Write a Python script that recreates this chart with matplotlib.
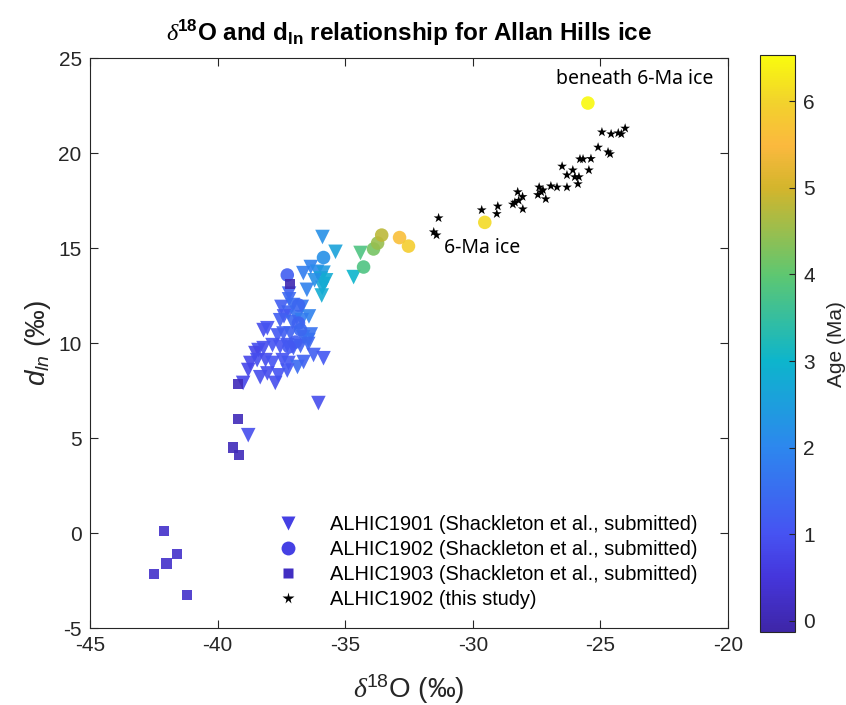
import matplotlib
matplotlib.use("Agg")
import matplotlib.pyplot as plt
from matplotlib.colors import LinearSegmentedColormap, Normalize
from matplotlib.lines import Line2D
import numpy as np

# ALHIC1901 (triangles): d18O, d_ln, age (Ma)
tri_d18o = [-35.89, -35.38, -34.40, -34.67, -36.64, -36.35, -36.10, -35.85, -35.95, -35.75,
            -35.90, -35.85, -35.92, -37.20, -37.20, -37.50, -36.70, -37.22, -37.40, -36.90,
            -36.42, -37.55, -37.07, -36.70, -38.20, -38.05, -37.65, -37.42, -37.15, -36.65,
            -36.44, -36.35, -38.40, -38.52, -38.20, -37.85, -37.55, -37.27, -37.03, -36.75,
            -36.45, -36.24, -35.85, -38.72, -38.45, -38.12, -37.85, -37.45, -37.22, -36.87,
            -36.63, -38.80, -38.33, -38.05, -37.74, -37.62, -37.27, -39.00, -36.05, -38.80,
            -36.50, -36.20, -37.05]
tri_dln = [15.58, 14.80, 14.74, 13.47, 13.68, 14.00, 13.75, 13.70, 13.40, 13.30,
           12.90, 13.10, 12.50, 12.60, 12.30, 11.90, 11.90, 11.60, 11.40, 11.35,
           11.40, 11.20, 11.10, 11.20, 10.68, 10.78, 10.40, 10.50, 10.50, 10.30,
           10.16, 10.45, 9.63, 9.47, 9.73, 9.89, 9.80, 9.89, 9.73, 9.84,
           9.95, 9.37, 9.20, 8.95, 9.10, 9.10, 8.95, 9.10, 8.95, 8.74,
           9.00, 8.58, 8.20, 8.40, 7.90, 8.30, 8.55, 7.90, 6.84, 5.15,
           12.80, 13.30, 12.00]
tri_age = [2.2, 2.6, 3.8, 3.0, 1.8, 1.9, 2.1, 2.4, 2.6, 2.8,
           2.7, 2.8, 2.8, 1.3, 1.4, 1.2, 1.7, 1.3, 1.1, 1.6,
           1.9, 1.2, 1.4, 1.8, 0.9, 1.0, 1.1, 1.2, 1.3, 1.5,
           1.6, 1.6, 0.9, 0.8, 0.9, 1.0, 1.0, 1.1, 1.2, 1.3,
           1.4, 1.2, 1.1, 0.8, 0.9, 0.9, 1.0, 1.0, 1.1, 1.5,
           1.3, 0.8, 0.9, 0.9, 0.9, 1.0, 1.1, 0.8, 0.9, 0.9,
           1.9, 2.2, 1.5]

# ALHIC1902 Shackleton (circles)
cir_d18o = [-37.27, -35.85, -36.83, -36.83, -36.75, -36.95, -37.20, -34.28, -33.89, -33.73,
            -33.57, -32.87, -32.52, -29.53, -25.49]
cir_dln = [13.58, 14.50, 12.00, 11.05, 10.70, 10.05, 9.80, 14.00, 14.95, 15.26,
           15.68, 15.55, 15.10, 16.35, 22.63]
cir_age = [1.2, 2.2, 1.4, 1.3, 1.4, 1.2, 1.1, 3.8, 4.2, 4.5,
           4.8, 5.6, 5.9, 6.1, 6.5]

# ALHIC1903 (squares)
sq_d18o = [-42.1, -41.6, -42.0, -42.5, -41.2, -39.2, -39.4, -39.15, -39.2, -37.15]
sq_dln = [0.1, -1.1, -1.6, -2.15, -3.25, 6.0, 4.5, 4.1, 7.85, 13.1]
sq_age = [0.3, 0.3, 0.3, 0.3, 0.3, 0.1, 0.1, 0.1, 0.1, 0.0]

# ALHIC1902 this study (stars)
st_d18o = [-31.34, -31.53, -31.42, -29.65, -29.02, -29.06, -28.43, -28.24, -28.20, -28.04,
           -28.05, -28.35, -27.45, -27.40, -27.25, -27.14, -27.32, -26.94, -26.70, -26.31,
           -26.50, -26.31, -26.08, -26.00, -25.88, -25.84, -25.80, -25.68, -25.37, -25.45,
           -25.09, -24.70, -24.62, -24.94, -24.58, -24.30, -24.18, -24.03]
st_dln = [16.58, 15.84, 15.68, 17.00, 17.20, 16.80, 17.30, 17.95, 17.50, 17.05,
          17.70, 17.40, 17.80, 18.20, 18.05, 17.58, 17.95, 18.26, 18.20, 18.20,
          19.30, 18.84, 19.10, 18.74, 18.37, 18.74, 19.68, 19.68, 19.70, 19.10,
          20.30, 20.05, 19.95, 21.10, 21.00, 21.05, 21.00, 21.30]

# parula-like colormap (value in Ma, color)
cmap_vals = [-0.13, 0.5, 1.0, 2.0, 3.0, 4.0, 5.0, 5.5, 6.0, 6.53]
cmap_cols = ["#3e26a8", "#4536dc", "#4653f2", "#2d87ee", "#0db5cc",
             "#5ec771", "#d3b52c", "#fbb93e", "#f2d22c", "#f9fb0e"]
vmin, vmax = -0.13, 6.53

plt.rcParams["font.family"] = ["Liberation Sans", "DejaVu Sans"]
plt.rcParams["axes.unicode_minus"] = False
plt.rcParams["mathtext.fontset"] = "custom"
plt.rcParams["mathtext.rm"] = "Liberation Sans"
plt.rcParams["mathtext.it"] = "Liberation Sans:italic"
plt.rcParams["mathtext.bf"] = "Liberation Sans:bold"
plt.rcParams["mathtext.sf"] = "Liberation Serif:italic"

pos = [(v - vmin) / (vmax - vmin) for v in cmap_vals]
parula = LinearSegmentedColormap.from_list("parula", list(zip(pos, cmap_cols)))
norm = Normalize(vmin=vmin, vmax=vmax)

fig = plt.figure(figsize=(8.46, 7.05), dpi=100)
ax = fig.add_axes([0.1064, 0.1092, 0.7541, 0.8085])
axc = "#262626"

ax.scatter(tri_d18o, tri_dln, c=tri_age, cmap=parula, norm=norm, marker="v", s=110,
           alpha=0.9, edgecolors="none", zorder=2)
ax.scatter(cir_d18o, cir_dln, c=cir_age, cmap=parula, norm=norm, marker="o", s=95,
           alpha=0.9, edgecolors="none", zorder=3)
ax.scatter(sq_d18o, sq_dln, c=sq_age, cmap=parula, norm=norm, marker="s", s=55,
           alpha=0.9, edgecolors="none", zorder=4)
ax.scatter(st_d18o, st_dln, c="black", marker="*", s=55, edgecolors="none", zorder=5)

ax.text(-31.14, 15.0, "6-Ma ice", fontsize=14, family="Noto Sans", va="center", ha="left")
ax.text(-26.75, 23.9, "beneath 6-Ma ice", fontsize=14, family="Noto Sans", va="center", ha="left")

ax.set_xlim(-45, -20)
ax.set_ylim(-5, 25)
ax.set_xticks([-45, -40, -35, -30, -25, -20])
ax.set_yticks([-5, 0, 5, 10, 15, 20, 25])
ax.tick_params(direction="in", top=True, right=True, length=6, width=0.8,
               labelsize=15, colors=axc, pad=6)
for sp in ax.spines.values():
    sp.set_color(axc)
    sp.set_linewidth(0.8)

ax.set_xlabel(r"$\mathsf{\delta}^{18}$O (‰)", fontsize=20, color=axc, labelpad=12)
ax.set_ylabel(r"$d_{ln}$ (‰)", fontsize=20, color=axc, labelpad=4)
ax.set_title(r"$\mathsf{\delta}^{\mathbf{18}}$O and d$_{\mathbf{ln}}$ relationship for Allan Hills ice",
             fontsize=17.5, fontweight="bold", pad=12)

handles = [
    Line2D([], [], ls="none", marker="v", ms=10.5, color=parula(norm(0.7)), mec="none"),
    Line2D([], [], ls="none", marker="o", ms=10, color=parula(norm(0.7)), mec="none"),
    Line2D([], [], ls="none", marker="s", ms=7.5, color=parula(norm(0.2)), mec="none"),
    Line2D([], [], ls="none", marker="*", ms=8.5, color="black", mec="none"),
]
labels = ["ALHIC1901 (Shackleton et al., submitted)",
          "ALHIC1902 (Shackleton et al., submitted)",
          "ALHIC1903 (Shackleton et al., submitted)",
          "ALHIC1902 (this study)"]
ax.legend(handles, labels, loc="lower left", bbox_to_anchor=(0.25, 0.001), frameon=False,
          fontsize=14.4, handlelength=2.0, handletextpad=1.1, labelspacing=0.3)

cax = fig.add_axes([0.898, 0.1035, 0.0414, 0.818])
sm = plt.cm.ScalarMappable(cmap=parula, norm=norm)
cb = fig.colorbar(sm, cax=cax, ticks=[0, 1, 2, 3, 4, 5, 6])
cb.outline.set_edgecolor(axc)
cb.outline.set_linewidth(0.8)
cax.tick_params(direction="in", length=4, labelsize=15, colors=axc, pad=6)
cb.set_label("Age (Ma)", fontsize=15, color=axc, labelpad=9)

fig.savefig("out.png", dpi=100)
